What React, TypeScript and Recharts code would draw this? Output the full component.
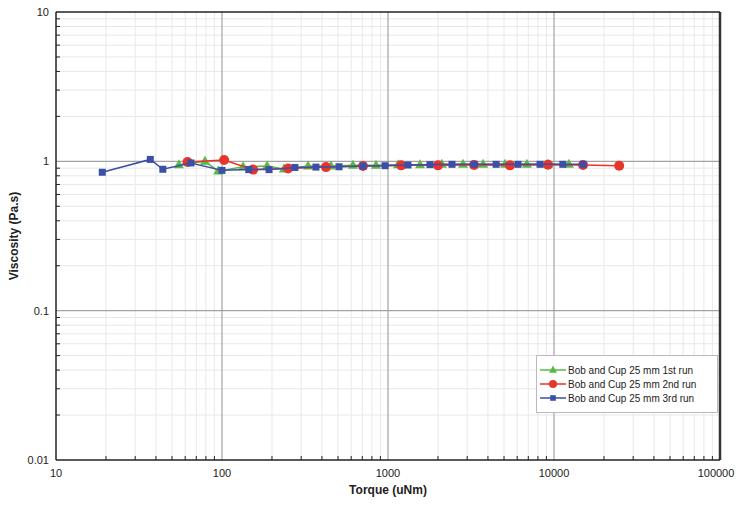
import React from "react";
import {
  ScatterChart,
  Scatter,
  XAxis,
  YAxis,
  ReferenceLine,
  Label
} from "recharts";

// Torque (uNm) / viscosity (Pa.s)
const run1Torque = [55, 79, 95, 134, 187, 236, 330, 454, 615, 847, 1150, 1560, 2110, 2830, 3740, 5070, 6870, 9200, 12300];
const run1Visc = [0.95, 1.0, 0.86, 0.92, 0.93, 0.89, 0.93, 0.93, 0.94, 0.94, 0.95, 0.95, 0.955, 0.955, 0.955, 0.955, 0.955, 0.955, 0.955];

const run2Torque = [62, 103, 154, 250, 423, 707, 1200, 2000, 3300, 5430, 9200, 14960, 24700];
const run2Visc = [0.99, 1.02, 0.88, 0.895, 0.915, 0.93, 0.94, 0.94, 0.945, 0.94, 0.95, 0.945, 0.935];

const run3Torque = [19, 37, 44, 65, 100, 145, 192, 275, 368, 507, 707, 960, 1320, 1790, 2430, 3300, 4480, 6070, 8240, 11300, 15000];
const run3Visc = [0.845, 1.03, 0.885, 0.975, 0.87, 0.88, 0.88, 0.91, 0.915, 0.92, 0.93, 0.935, 0.945, 0.95, 0.955, 0.955, 0.955, 0.955, 0.955, 0.955, 0.955];

const seriesNames = [
  "Bob and Cup 25 mm 1st run",
  "Bob and Cup 25 mm 2nd run",
  "Bob and Cup 25 mm 3rd run"
];

const xMajor = [10, 100, 1000, 10000, 100000];
const yMajor = [0.01, 0.1, 1, 10];

const minorOf = (majors: number[]) => {
  const out: number[] = [];
  for (let i = 0; i < majors.length - 1; i++) {
    for (let k = 2; k <= 9; k++) out.push(+(majors[i] * k).toPrecision(3));
  }
  return out;
};
const xMinor = minorOf(xMajor);
const yMinor = minorOf(yMajor);

const zip = (xs: number[], ys: number[]) => xs.map((x, i) => ({ x, y: ys[i] }));
const run1 = zip(run1Torque, run1Visc);
const run2 = zip(run2Torque, run2Visc);
const run3 = zip(run3Torque, run3Visc);

const GREEN = "#58b947";
const RED = "#e8352a";
const BLUE = "#3b4fa6";
const FONT = "'Liberation Sans', Arial, sans-serif";

const Triangle = (p: any) => (
  <path
    d={`M${p.cx},${p.cy - 5.5}L${p.cx + 5},${p.cy + 3.5}L${p.cx - 5},${p.cy + 3.5}Z`}
    fill={GREEN}
  />
);
const Dot = (p: any) => <circle cx={p.cx} cy={p.cy} r={5} fill={RED} />;
const Square = (p: any) => (
  <rect x={p.cx - 3.5} y={p.cy - 3.5} width={7} height={7} fill={BLUE} />
);

const XTick = (p: any) => {
  const v = p.payload.value;
  const major = xMajor.includes(v);
  const nudge = v === 100000 ? -4 : 0;
  return (
    <g>
      {!major && <line x1={p.x} x2={p.x} y1={p.y} y2={p.y - 4} stroke="#222" />}
      {major && (
        <text x={p.x + nudge} y={p.y + 17} textAnchor="middle" fontSize={11} fill="#222" fontFamily={FONT}>
          {v}
        </text>
      )}
    </g>
  );
};

const YTick = (p: any) => {
  const v = p.payload.value;
  const major = yMajor.includes(v);
  return (
    <g>
      {!major && <line x1={p.x} x2={p.x + 4} y1={p.y} y2={p.y} stroke="#222" />}
      {major && (
        <text x={p.x - 7} y={p.y + 4} textAnchor="end" fontSize={11} fill="#222" fontFamily={FONT}>
          {v}
        </text>
      )}
    </g>
  );
};

const legendItems = [
  { name: seriesNames[0], color: GREEN, Mark: Triangle },
  { name: seriesNames[1], color: RED, Mark: Dot },
  { name: seriesNames[2], color: BLUE, Mark: Square }
];

const LegendBox = () => (
  <svg width={182} height={58} style={{ display: "block" }}>
    <rect x={0.5} y={0.5} width={181} height={57} fill="#fff" stroke="#bbb" />
    {legendItems.map((it, i) => {
      const cy = 15 + i * 14;
      const s = 0.8;
      return (
        <g key={it.name}>
          <line x1={4} x2={30} y1={cy} y2={cy} stroke={it.color} strokeWidth={1.5} />
          <g transform={`translate(17,${cy}) scale(${s}) translate(-17,${-cy})`}>
            <it.Mark cx={17} cy={cy} />
          </g>
          <text x={32} y={cy + 3.5} fontSize={10} fill="#222" fontFamily={FONT}>
            {it.name}
          </text>
        </g>
      );
    })}
  </svg>
);

export default function App() {
  return (
    <div style={{ position: "absolute", left: 0, top: 0, width: 736, height: 508, background: "#fff" }}>
      <ScatterChart
        width={736}
        height={508}
        margin={{ top: 12, right: 16, bottom: 0, left: 10 }}
      >
        {xMinor.map((v) => (
          <ReferenceLine key={"xm" + v} x={v} stroke="#e8e8e8" strokeWidth={1} />
        ))}
        {yMinor.map((v) => (
          <ReferenceLine key={"ym" + v} y={v} stroke="#e8e8e8" strokeWidth={1} />
        ))}
        {xMajor.slice(1, -1).map((v) => (
          <ReferenceLine key={"xM" + v} x={v} stroke="#a3a3a3" strokeWidth={1.2} />
        ))}
        {yMajor.slice(1, -1).map((v) => (
          <ReferenceLine key={"yM" + v} y={v} stroke="#a3a3a3" strokeWidth={1.2} />
        ))}
        <ReferenceLine y={10} stroke="#222" strokeWidth={1.5} />
        <ReferenceLine x={100000} stroke="#333" strokeWidth={2.5} />
        <XAxis
          type="number"
          dataKey="x"
          scale="log"
          domain={[10, 100000]}
          ticks={[...xMajor, ...xMinor].sort((a, b) => a - b)}
          interval={0}
          tick={<XTick />}
          tickLine={false}
          tickSize={0}
          tickMargin={0}
          height={48}
          axisLine={{ stroke: "#222", strokeWidth: 1.5 }}
          allowDataOverflow
        >
          <Label
            value="Torque (uNm)"
            position="insideBottom"
            offset={14}
            style={{ fontWeight: "bold", fontSize: 12, fill: "#222", fontFamily: FONT }}
          />
        </XAxis>
        <YAxis
          type="number"
          dataKey="y"
          scale="log"
          domain={[0.01, 10]}
          ticks={[...yMajor, ...yMinor].sort((a, b) => a - b)}
          interval={0}
          tick={<YTick />}
          tickLine={false}
          tickSize={0}
          tickMargin={0}
          width={46}
          axisLine={{ stroke: "#222", strokeWidth: 1.5 }}
          allowDataOverflow
        >
          <Label
            content={(props: any) => {
              const vb = props.viewBox;
              const cx = vb.x + 4;
              const cy = vb.y + vb.height / 2;
              return (
                <text
                  x={cx}
                  y={cy}
                  transform={`rotate(-90, ${cx}, ${cy})`}
                  textAnchor="middle"
                  dominantBaseline="central"
                  fontWeight="bold"
                  fontSize={12}
                  fill="#222"
                  fontFamily={FONT}
                >
                  Viscosity (Pa.s)
                </text>
              );
            }}
          />
        </YAxis>
        <Scatter
          name={seriesNames[0]}
          data={run1}
          fill={GREEN}
          line={{ stroke: GREEN, strokeWidth: 1.5 }}
          lineType="joint"
          shape={Triangle}
          isAnimationActive={false}
        />
        <Scatter
          name={seriesNames[1]}
          data={run2}
          fill={RED}
          line={{ stroke: RED, strokeWidth: 1.5 }}
          lineType="joint"
          shape={Dot}
          isAnimationActive={false}
        />
        <Scatter
          name={seriesNames[2]}
          data={run3}
          fill={BLUE}
          line={{ stroke: BLUE, strokeWidth: 1.5 }}
          lineType="joint"
          shape={Square}
          isAnimationActive={false}
        />
      </ScatterChart>
      <div style={{ position: "absolute", left: 536, top: 355 }}>
        <LegendBox />
      </div>
    </div>
  );
}
